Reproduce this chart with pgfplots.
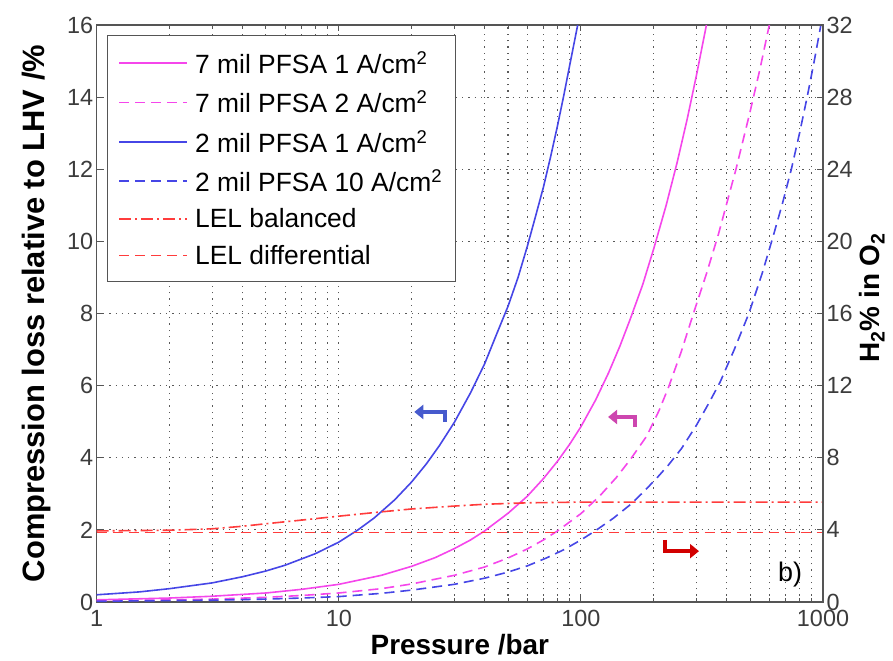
\documentclass[border=0pt]{standalone}
\usepackage{fontspec}
\setmainfont{Liberation Sans}
\usepackage{pgfplots}
\pgfplotsset{compat=1.18}
\usetikzlibrary{arrows.meta}
\definecolor{cmag}{RGB}{245,70,235}
\definecolor{cblue}{RGB}{70,70,230}
\definecolor{cred}{RGB}{255,60,60}
\definecolor{abl}{RGB}{70,90,205}
\definecolor{amag}{RGB}{205,70,175}
\definecolor{ared}{RGB}{210,0,0}
\definecolor{framec}{RGB}{85,85,85}
\definecolor{tickc}{RGB}{60,60,60}
\begin{document}
\begin{tikzpicture}
\useasboundingbox (-96.7bp,-59bp) rectangle (796.3bp,602bp);
\begin{axis}[
  at={(0,0)}, anchor=south west,
  scale only axis, width=726.3bp, height=577bp,
  xmode=log, xmin=1, xmax=1000, ymin=0, ymax=16,
  xtick={1,10,100,1000}, xticklabels={1,10,100,1000},
  minor xtick={2,3,4,5,6,7,8,9,20,30,40,50,60,70,80,90,200,300,400,500,600,700,800,900},
  ytick={0,2,4,6,8,10,12,14,16}, yticklabels={0,2,4,6,8,10,12,14,16},
  ytick pos=left,
  tick align=inside,
  major tick length=6bp, minor tick length=4bp,
  every tick/.style={framec, line width=0.9bp},
  axis line style={framec, line width=1.2bp},
  xmajorgrids, xminorgrids, ymajorgrids,
  major grid style={dash pattern=on 1.3bp off 5bp, line width=1.1bp, color=black!65},
  minor grid style={dash pattern=on 1.3bp off 5bp, line width=1.1bp, color=black!65},
  ticklabel style={font=\fontsize{23.5}{23.5}\selectfont, text=tickc},
  xticklabel style={yshift=-5bp},
  every axis x label/.style={at={(axis description cs:0.5,-0.0745)}, anchor=center,
    font=\bfseries\fontsize{28}{28}\selectfont},
  every axis y label/.style={at={(axis description cs:-0.0835,0.5)}, rotate=90, anchor=center,
    font=\bfseries\fontsize{31}{31}\selectfont},
  xlabel={Pressure /bar},
  ylabel={Compression loss relative to LHV /\%},
  legend cell align=left,
  legend image code/.code={\draw[#1] (0bp,0bp) -- (68bp,0bp);},
  legend style={at={(axis description cs:0,1)}, anchor=north west,
    xshift=10.3bp, yshift=-10bp, draw=framec, line width=1.2bp, fill=white,
    font=\fontsize{26.5}{26.5}\selectfont, row sep=11.9bp, column sep=5bp,
    inner xsep=11bp, inner ysep=14bp},
]
\addplot[color=cmag, draw=cmag, line width=1.6bp] coordinates {
(1,0.06) (2,0.11) (3,0.16) (5,0.25) (7,0.35) (10,0.49) (15,0.74) (20,0.99) (25,1.23)
(30,1.48) (35,1.72) (40,1.97) (50,2.46) (60,2.93) (70,3.42) (80,3.9) (90,4.38) (100,4.86)
(115,5.6) (130,6.35) (145,7.1) (160,7.85) (180,8.8) (200,9.8) (225,11.0) (250,12.2)
(275,13.4) (300,14.6) (330,16)};
\addlegendentry{7 mil PFSA 1 A/cm\textsuperscript{2}}
\addplot[color=cmag, draw=cmag, line width=1.6bp, dash pattern=on 10bp off 6bp] coordinates {
(1,0.03) (2,0.06) (3,0.08) (5,0.13) (7,0.18) (10,0.25) (15,0.37) (20,0.5) (30,0.74)
(40,0.97) (50,1.22) (60,1.47) (70,1.72) (80,1.97) (100,2.45) (120,2.95) (140,3.45)
(160,3.95) (187,4.6) (210,5.3) (230,5.95) (260,6.95) (290,7.95) (330,9.1) (370,10.2)
(437,12) (500,13.6) (550,14.8) (600,16)};
\addlegendentry{7 mil PFSA 2 A/cm\textsuperscript{2}}
\addplot[color=cblue, draw=cblue, line width=1.6bp] coordinates {
(1,0.2) (1.5,0.28) (2,0.37) (3,0.53) (4,0.7) (5,0.86) (6,1.02) (8,1.34) (10,1.66)
(12,2.0) (14,2.33) (17,2.83) (20,3.33) (23,3.83) (26,4.33) (30,4.98) (35,5.8) (40,6.6)
(45,7.45) (50,8.2) (55,9.0) (60,9.85) (65,10.7) (70,11.5) (75,12.35) (80,13.2)
(85,14.05) (90,14.9) (97,16)};
\addlegendentry{2 mil PFSA 1 A/cm\textsuperscript{2}}
\addplot[color=cblue, draw=cblue, line width=1.6bp, dash pattern=on 10bp off 6bp] coordinates {
(1,0.02) (2,0.04) (3,0.05) (5,0.08) (7,0.11) (10,0.15) (15,0.24) (20,0.33) (30,0.49)
(40,0.66) (50,0.83) (60,1.0) (72,1.22) (85,1.45) (100,1.72) (115,1.98) (136,2.32)
(160,2.7) (180,3.03) (206,3.44) (230,3.8) (260,4.25) (300,4.9) (340,5.55) (376,6.1)
(430,7.0) (494,8.0) (560,9.1) (620,10.1) (680,11.05) (740,12.0) (800,13.0) (860,14.0)
(920,15.0) (980,16)};
\addlegendentry{2 mil PFSA 10 A/cm\textsuperscript{2}}
\addplot[color=cred, draw=cred, line width=1.6bp, dash pattern=on 12bp off 4bp on 2bp off 4bp] coordinates {
(1,1.97) (2,1.99) (3,2.03) (4,2.1) (5,2.17) (7,2.27) (10,2.38) (15,2.5) (20,2.58)
(30,2.66) (40,2.71) (60,2.75) (100,2.77) (1000,2.77)};
\addlegendentry{LEL balanced}
\addplot[color=cred, draw=cred, line width=1.6bp, dash pattern=on 10bp off 6bp] coordinates {
(1,1.93) (1000,1.93)};
\addlegendentry{LEL differential}
\draw[abl, line width=4bp, -{Triangle[length=9bp,width=14bp]}]
  (axis cs:27.5,4.99) -- (axis cs:27.5,5.27) -- (axis cs:20.5,5.27);
\draw[amag, line width=4bp, -{Triangle[length=9bp,width=14bp]}]
  (axis cs:167.5,4.85) -- (axis cs:167.5,5.13) -- (axis cs:129.5,5.13);
\draw[ared, line width=4bp, -{Triangle[length=9bp,width=14bp]}]
  (axis cs:223,1.72) -- (axis cs:223,1.41) -- (axis cs:307.5,1.41);
\node[font=\fontsize{27}{27}\selectfont] at (axis cs:731,0.75) {b)};
\end{axis}
\begin{axis}[
  at={(0,0)}, anchor=south west,
  scale only axis, width=726.3bp, height=577bp,
  xmode=log, xmin=1, xmax=1000, ymin=0, ymax=32,
  axis x line=none, axis y line*=right,
  ytick={0,4,8,12,16,20,24,28,32}, yticklabels={0,4,8,12,16,20,24,28,32},
  tick align=inside, major tick length=6bp,
  every tick/.style={framec, line width=0.9bp},
  axis line style={framec, line width=1.2bp},
  ticklabel style={font=\fontsize{23.5}{23.5}\selectfont, text=tickc},
  every axis y label/.style={at={(axis description cs:1.0675,0.527)}, rotate=90, anchor=center,
    font=\bfseries\fontsize{28}{28}\selectfont},
  ylabel={H\textsubscript{2}\% in O\textsubscript{2}},
]
\end{axis}
\end{tikzpicture}
\end{document}
